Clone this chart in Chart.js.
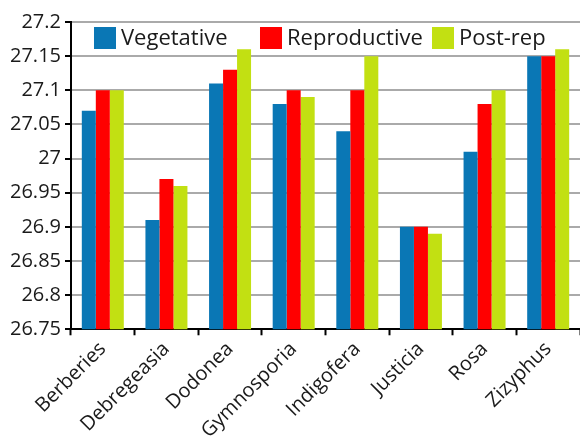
<!DOCTYPE html>
<html>
<head>
<meta charset="utf-8">
<script src="https://cdn.jsdelivr.net/npm/chart.js@4.4.1/dist/chart.umd.min.js"></script>
<style>
  html, body { margin: 0; padding: 0; background: #fff; overflow: hidden; }
</style>
</head>
<body>
<canvas id="c" width="580" height="445"></canvas>
<script>
const species = ['Berberies', 'Debregeasia', 'Dodonea', 'Gymnosporia', 'Indigofera', 'Justicia', 'Rosa', 'Zizyphus'];
const vegetative = [27.07, 26.91, 27.11, 27.08, 27.04, 26.90, 27.01, 27.15];
const reproductive = [27.10, 26.97, 27.13, 27.10, 27.10, 26.90, 27.08, 27.15];
const postRep = [27.10, 26.96, 27.16, 27.09, 27.15, 26.89, 27.10, 27.16];
const yTicks = [26.75, 26.8, 26.85, 26.9, 26.95, 27, 27.05, 27.1, 27.15, 27.2];

const font = { family: 'Open Sans', size: 20 };

// legend drawn inside the plot area, items at fixed offsets from the left edge
const legendOffsets = [23, 189, 361];
const insideLegend = {
  id: 'insideLegend',
  afterDraw(chart) {
    const ctx = chart.ctx;
    const area = chart.chartArea;
    const y = area.top + 5;
    ctx.save();
    ctx.font = '22px ' + font.family;
    ctx.textBaseline = 'middle';
    chart.data.datasets.forEach((ds, i) => {
      const x = area.left + legendOffsets[i];
      ctx.fillStyle = ds.backgroundColor;
      ctx.fillRect(x, y, 22, 22);
      ctx.fillStyle = '#1a1a1a';
      ctx.fillText(ds.label, x + 27, y + 12);
    });
    ctx.restore();
  }
};

new Chart(document.getElementById('c'), {
  type: 'bar',
  data: {
    labels: species,
    datasets: [
      { label: 'Vegetative', data: vegetative, backgroundColor: '#0a77b5' },
      { label: 'Reproductive', data: reproductive, backgroundColor: '#ff0000' },
      { label: 'Post-rep', data: postRep, backgroundColor: '#c2e012' }
    ]
  },
  plugins: [insideLegend],
  options: {
    responsive: false,
    animation: false,
    devicePixelRatio: 1,
    layout: { padding: { top: 22, left: 6, right: 0, bottom: 0 } },
    datasets: { bar: { barPercentage: 1, categoryPercentage: 0.66 } },
    plugins: {
      tooltip: { enabled: false },
      legend: { display: false }
    },
    scales: {
      x: {
        grid: { drawOnChartArea: false, offset: true, tickLength: 6, tickColor: '#000', tickWidth: 2 },
        border: { color: '#000', width: 2 },
        ticks: { minRotation: 45, maxRotation: 45, color: '#1a1a1a', font: font, padding: 2 }
      },
      y: {
        min: 26.75,
        max: 27.2,
        afterBuildTicks: axis => { axis.ticks = yTicks.map(v => ({ value: v })); },
        grid: { color: '#aaaaaa', lineWidth: 2, tickLength: 6, tickColor: '#000', tickWidth: 2 },
        border: { color: '#000', width: 2 },
        ticks: { color: '#1a1a1a', font: font, padding: 4, callback: v => String(+v.toFixed(2)) }
      }
    }
  }
});
</script>
</body>
</html>
